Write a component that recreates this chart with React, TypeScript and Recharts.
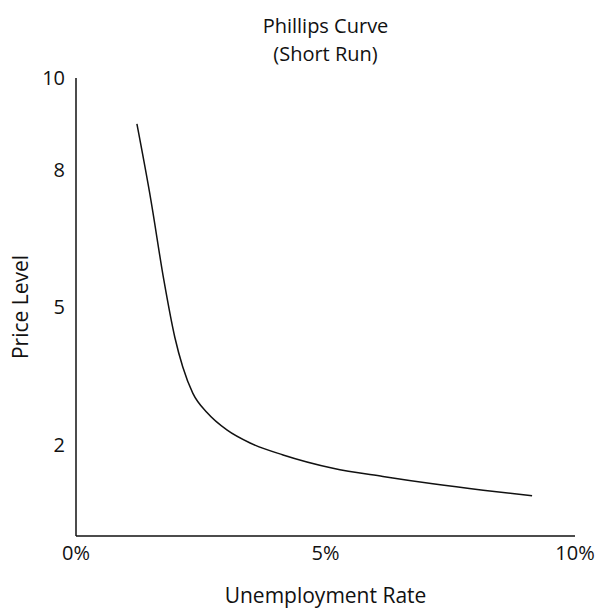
import { LineChart, Line, XAxis, YAxis } from "recharts"

// Phillips curve
const unemployment = [1.22, 1.5, 1.76, 1.98, 2.14, 2.34, 2.63, 3.03, 3.49, 4.15, 5.15, 6.15, 7.15, 8.16, 9.14]
const priceLevel = [9.0, 7.34, 5.59, 4.34, 3.69, 3.12, 2.69, 2.31, 2.03, 1.77, 1.48, 1.3, 1.14, 1.0, 0.88]

const xTicks = [0, 5, 10]
const yTicks = [2, 5, 8, 10]

const titleLines = ["Phillips Curve", "(Short Run)"]

const data = unemployment.map((u, i) => ({ u, p: priceLevel[i] }))

const font = "'Open Sans', sans-serif"

export default function App() {
  return (
    <div style={{ position: "absolute", left: 0, top: 0, width: 596, height: 609, fontFamily: font, color: "#111" }}>
      <div
        style={{
          position: "absolute",
          left: 76,
          width: 499,
          top: 12,
          textAlign: "center",
          fontSize: 20,
          lineHeight: "28px",
        }}
      >
        {titleLines.map((t) => (
          <div key={t}>{t}</div>
        ))}
      </div>
      <LineChart width={596} height={609} data={data} margin={{ top: 78, right: 21, left: 0, bottom: 23 }}>
        <XAxis
          dataKey="u"
          type="number"
          domain={[0, 10]}
          ticks={xTicks}
          tickFormatter={(v) => `${v}%`}
          tickLine={false}
          tickMargin={4}
          height={50}
          axisLine={{ stroke: "#111", strokeWidth: 1.5 }}
          tick={{ fill: "#111", fontSize: 20 }}
          label={{ value: "Unemployment Rate", position: "bottom", offset: 2, fill: "#111", fontSize: 21 }}
        />
        <YAxis
          type="number"
          domain={[0, 10]}
          ticks={yTicks}
          tickLine={false}
          tickMargin={5}
          width={76}
          axisLine={{ stroke: "#111", strokeWidth: 1.5 }}
          tick={{ fill: "#111", fontSize: 20 }}
          label={{
            value: "Price Level",
            angle: -90,
            position: "insideLeft",
            offset: 21,
            fill: "#111",
            fontSize: 21,
            style: { textAnchor: "middle" },
          }}
        />
        <Line type="monotone" dataKey="p" stroke="#111" strokeWidth={1.5} dot={false} isAnimationActive={false} />
      </LineChart>
    </div>
  )
}
